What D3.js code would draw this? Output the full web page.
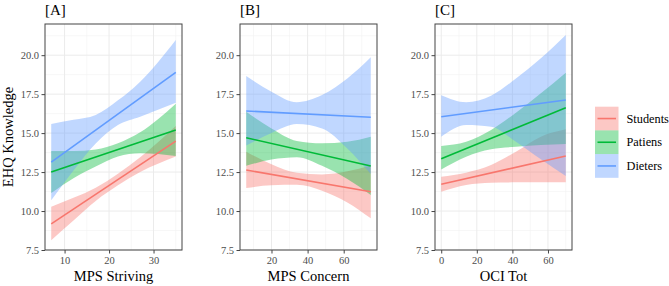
<!DOCTYPE html>
<html>
<head>
<meta charset="utf-8">
<title>EHQ Knowledge</title>
<style>
  body { margin: 0; background: #fff; }
  svg { display: block; font-family: "Liberation Serif", "Times New Roman", serif; }
</style>
</head>
<body>
<div id="chart"></div>
<script src="https://d3js.org/d3.v7.min.js"></script>
<script>
// facets
const panelTags = ['[A]', '[B]', '[C]'];
const xTitles = ['MPS Striving', 'MPS Concern', 'OCI Tot'];
const xExtents = [[7, 35], [6, 75], [0, 70]];
const xTicks = [[10, 20, 30], [20, 40, 60], [0, 20, 40, 60]];
const yTicks = [7.5, 10, 12.5, 15, 17.5, 20];

// groups
const groups = ['Students', 'Patiens', 'Dieters'];
const colors = ['#F8766D', '#00BA38', '#619CFF'];

const sampleX = [
  [7, 12, 17, 22, 27, 35],
  [6, 20, 34, 48, 62, 75],
  [0, 14, 28, 42, 56, 70]
];

// fitted line, start and end value (Students, Patiens, Dieters)
const lineA = [[9.18, 14.49], [12.5, 15.2], [13.14, 18.9]];
const lineB = [[12.63, 11.24], [14.7, 12.89], [16.42, 16.02]];
const lineC = [[11.72, 13.53], [13.35, 16.63], [16.05, 17.12]];

// confidence band, lower and upper, at sampleX
const lowA = [[8.13, 9.4, 10.65, 11.65, 12.5, 13.5],
              [11.15, 12.1, 12.85, 13.5, 13.7, 13.53],
              [10.69, 12.6, 14.34, 15.52, 16.05, 16.95]];
const highA = [[10.27, 10.85, 11.5, 12.4, 13.45, 15.45],
               [13.85, 13.85, 13.95, 14.35, 15.05, 16.88],
               [15.59, 15.85, 16.16, 17.1, 18.3, 20.97]];
const lowB = [[11.48, 11.65, 11.68, 11.3, 10.55, 9.53],
              [12.9, 13.3, 13.45, 12.9, 12.05, 11.03],
              [14.2, 15.0, 15.58, 15.3, 14.02, 12.38]];
const highB = [[13.81, 13.0, 12.45, 12.35, 12.55, 12.92],
               [16.37, 15.3, 14.5, 14.35, 14.45, 14.77],
               [18.66, 17.66, 16.98, 17.44, 18.5, 19.86]];
const lowC = [[11.24, 11.67, 11.82, 11.84, 11.85, 11.84],
              [12.66, 13.49, 13.96, 14.13, 14.24, 14.3],
              [14.77, 15.52, 15.41, 14.45, 13.32, 12.25]];
const highC = [[12.2, 12.46, 12.95, 13.81, 14.77, 15.24],
               [14.18, 14.45, 15.2, 16.31, 17.55, 18.88],
               [17.43, 16.98, 17.4, 18.5, 19.8, 21.29]];

const lines = [lineA, lineB, lineC];
const lows = [lowA, lowB, lowC];
const highs = [highA, highB, highC];

const width = 669, height = 286;
const panelLeft = [45, 240, 435];
const panelW = 137;
const plotTop = 24, plotBottom = 250;

const svg = d3.select('#chart').append('svg')
  .attr('width', width)
  .attr('height', height);

const y = d3.scaleLinear().domain([7.5, 22]).range([plotBottom, plotTop]);

panelTags.forEach((tag, p) => {
  const ext = xExtents[p];
  const pad = (ext[1] - ext[0]) * 0.05;
  const x = d3.scaleLinear()
    .domain([ext[0] - pad, ext[1] + pad])
    .range([panelLeft[p], panelLeft[p] + panelW]);

  const g = svg.append('g');

  // grid
  const step = xTicks[p][1] - xTicks[p][0];
  const xMinor = d3.range(xTicks[p][0] - step / 2, ext[1] + pad, step)
    .filter(v => v > x.domain()[0] && v < x.domain()[1]);
  const yMinor = d3.range(8.75, 22, 2.5);
  g.selectAll('.vminor').data(xMinor).join('line')
    .attr('x1', d => x(d)).attr('x2', d => x(d))
    .attr('y1', plotTop).attr('y2', plotBottom)
    .attr('stroke', '#f2f2f2').attr('stroke-width', 0.6);
  g.selectAll('.hminor').data(yMinor).join('line')
    .attr('x1', x.range()[0]).attr('x2', x.range()[1])
    .attr('y1', d => y(d)).attr('y2', d => y(d))
    .attr('stroke', '#f2f2f2').attr('stroke-width', 0.6);
  g.selectAll('.vmajor').data(xTicks[p]).join('line')
    .attr('x1', d => x(d)).attr('x2', d => x(d))
    .attr('y1', plotTop).attr('y2', plotBottom)
    .attr('stroke', '#ebebeb').attr('stroke-width', 1);
  g.selectAll('.hmajor').data(yTicks).join('line')
    .attr('x1', x.range()[0]).attr('x2', x.range()[1])
    .attr('y1', d => y(d)).attr('y2', d => y(d))
    .attr('stroke', '#ebebeb').attr('stroke-width', 1);

  // ribbons
  groups.forEach((grp, i) => {
    const pts = sampleX[p].map((xv, k) => ({ x: xv, lo: lows[p][i][k], hi: highs[p][i][k] }));
    const area = d3.area()
      .x(d => x(d.x))
      .y0(d => y(d.lo))
      .y1(d => y(d.hi))
      .curve(d3.curveMonotoneX);
    g.append('path')
      .datum(pts)
      .attr('d', area)
      .attr('fill', colors[i])
      .attr('fill-opacity', 0.4);
  });

  // fitted lines
  groups.forEach((grp, i) => {
    g.append('line')
      .attr('x1', x(ext[0])).attr('y1', y(lines[p][i][0]))
      .attr('x2', x(ext[1])).attr('y2', y(lines[p][i][1]))
      .attr('stroke', colors[i])
      .attr('stroke-width', 1.6);
  });

  // border
  g.append('rect')
    .attr('x', x.range()[0]).attr('y', plotTop)
    .attr('width', panelW).attr('height', plotBottom - plotTop)
    .attr('fill', 'none')
    .attr('stroke', '#444').attr('stroke-width', 1);

  // axes
  const xAxis = g.append('g')
    .attr('transform', `translate(0,${plotBottom})`)
    .call(d3.axisBottom(x).tickValues(xTicks[p]).tickSize(3.5).tickPadding(3));
  const yAxis = g.append('g')
    .attr('transform', `translate(${x.range()[0]},0)`)
    .call(d3.axisLeft(y).tickValues(yTicks).tickFormat(d3.format('.1f')).tickSize(3.5).tickPadding(2.5));
  [xAxis, yAxis].forEach(a => {
    a.attr('font-family', '"Liberation Serif", serif').attr('font-size', 10.5);
    a.select('.domain').remove();
    a.selectAll('.tick line').attr('stroke', '#444');
    a.selectAll('.tick text').attr('fill', '#4d4d4d');
  });

  // titles
  g.append('text')
    .attr('x', x.range()[0]).attr('y', 15)
    .style('font-size', '15px')
    .text(tag);
  g.append('text')
    .attr('x', (x.range()[0] + x.range()[1]) / 2).attr('y', 281)
    .attr('text-anchor', 'middle')
    .style('font-size', '14.5px')
    .text(xTitles[p]);
});

svg.append('text')
  .attr('transform', `translate(13,${(plotTop + plotBottom) / 2}) rotate(-90)`)
  .attr('text-anchor', 'middle')
  .style('font-size', '14.5px')
  .text('EHQ Knowledge');

// legend
const keyH = 23.7;
const legend = svg.append('g').attr('transform', 'translate(595,106.7)');
groups.forEach((grp, i) => {
  const row = legend.append('g').attr('transform', `translate(0,${i * keyH})`);
  row.append('rect')
    .attr('width', 23.5).attr('height', keyH)
    .attr('fill', colors[i]).attr('fill-opacity', 0.4);
  row.append('line')
    .attr('x1', 2.5).attr('x2', 21)
    .attr('y1', keyH / 2).attr('y2', keyH / 2)
    .attr('stroke', colors[i]).attr('stroke-width', 1.6);
  row.append('text')
    .attr('x', 31.5).attr('y', keyH / 2 + 4)
    .style('font-size', '12.3px')
    .text(grp);
});
</script>
</body>
</html>
